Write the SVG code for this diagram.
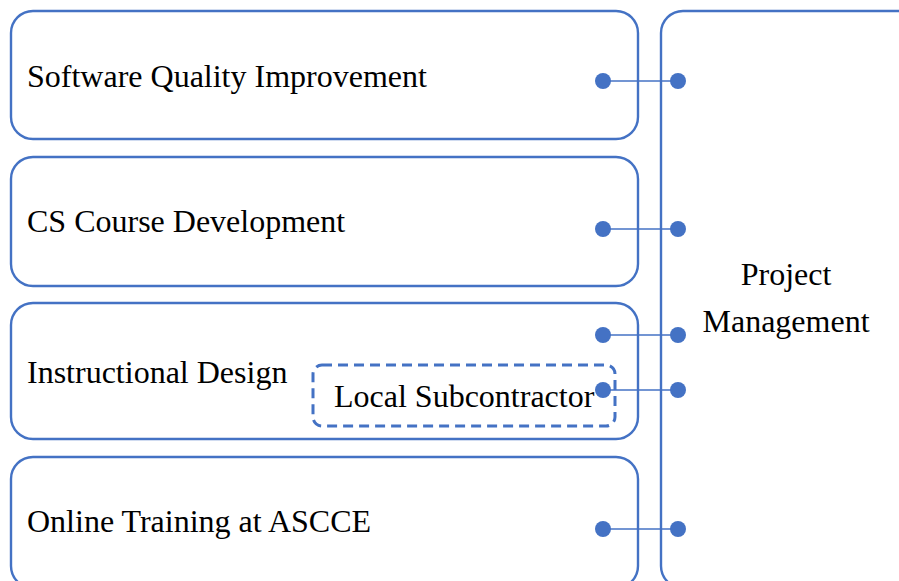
<svg xmlns="http://www.w3.org/2000/svg" width="899" height="581" viewBox="0 0 899 581">
  <style>
    .box { fill: #ffffff; stroke: #4472c4; stroke-width: 2.4; }
    .dash { fill: none; stroke: #4472c4; stroke-width: 3; stroke-dasharray: 10 6; }
    .lbl { font-family: "Liberation Serif", "Times New Roman", serif; font-size: 32px; fill: #000000; }
    .link { stroke: #4472c4; stroke-width: 1.5; fill: none; }
    .dot { fill: #4472c4; }
  </style>
  <rect width="899" height="581" fill="#ffffff"/>

  <g id="project-management">
    <rect class="box" x="661" y="11" width="260" height="577" rx="22"/>
    <text class="lbl" x="786" y="285" text-anchor="middle">Project</text>
    <text class="lbl" x="786" y="332" text-anchor="middle">Management</text>
  </g>

  <g id="software-quality">
    <rect class="box" x="11" y="11" width="627" height="128" rx="22"/>
    <text class="lbl" x="27" y="87">Software Quality Improvement</text>
  </g>

  <g id="cs-course">
    <rect class="box" x="11" y="157" width="627" height="129" rx="22"/>
    <text class="lbl" x="27" y="232">CS Course Development</text>
  </g>

  <g id="instructional-design">
    <rect class="box" x="11" y="303" width="627" height="136" rx="22"/>
    <text class="lbl" x="27" y="383">Instructional Design</text>
  </g>

  <g id="local-subcontractor">
    <rect class="dash" x="313" y="365" width="302" height="61" rx="9"/>
    <text class="lbl" x="334" y="407">Local Subcontractor</text>
  </g>

  <g id="online-training">
    <rect class="box" x="11" y="457" width="627" height="131" rx="22"/>
    <text class="lbl" x="27" y="532">Online Training at ASCCE</text>
  </g>

  <g id="connectors">
    <line class="link" x1="603" y1="81" x2="678" y2="81"/>
    <circle class="dot" cx="603" cy="81" r="8"/>
    <circle class="dot" cx="678" cy="81" r="8"/>

    <line class="link" x1="603" y1="229" x2="678" y2="229"/>
    <circle class="dot" cx="603" cy="229" r="8"/>
    <circle class="dot" cx="678" cy="229" r="8"/>

    <line class="link" x1="603" y1="335" x2="678" y2="335"/>
    <circle class="dot" cx="603" cy="335" r="8"/>
    <circle class="dot" cx="678" cy="335" r="8"/>

    <line class="link" x1="603" y1="390" x2="678" y2="390"/>
    <circle class="dot" cx="603" cy="390" r="8"/>
    <circle class="dot" cx="678" cy="390" r="8"/>

    <line class="link" x1="603" y1="529" x2="678" y2="529"/>
    <circle class="dot" cx="603" cy="529" r="8"/>
    <circle class="dot" cx="678" cy="529" r="8"/>
  </g>
</svg>
